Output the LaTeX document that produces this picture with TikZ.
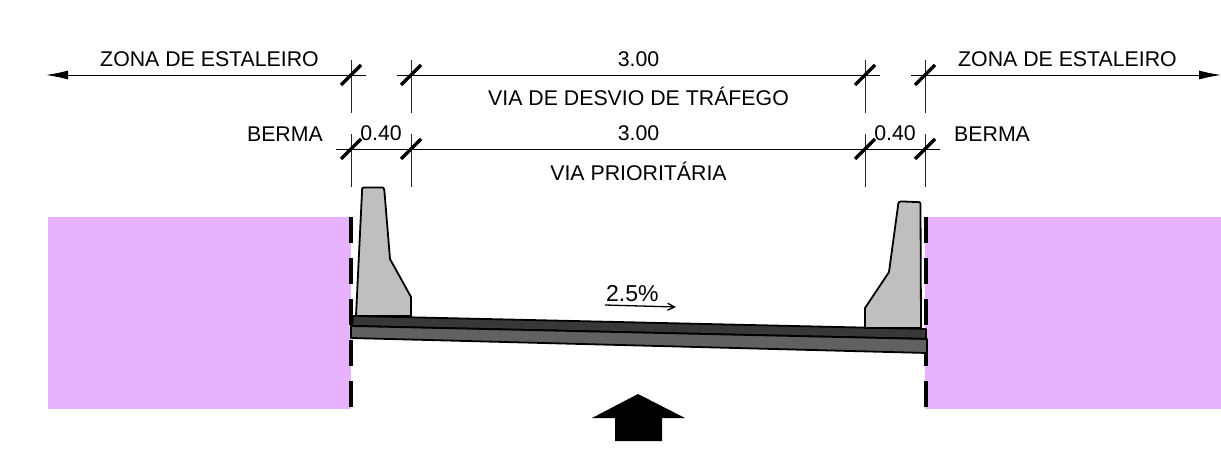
\documentclass[tikz,border=0pt]{standalone}
\usepackage{fontspec}
\setmainfont{Liberation Sans}
\usetikzlibrary{positioning, arrows.meta}

\begin{document}
\begin{tikzpicture}[
        x=1pt, y=-1pt,
        ground/.style = {fill=groundpink, draw=none},
        joint/.style = {line width=4.5pt, dash pattern=on 26pt off 15pt},
        barrier/.style = {draw=black, fill=black!25, line width=1.8pt, line join=round},
        deck/.style = {draw=black, line width=1.8pt, line join=round},
        dimline/.style = {line width=0.9pt},
        extline/.style = {line width=0.9pt, black!85},
        tickmark/.style = {line width=3.2pt},
        dimlabel/.style = {font=\fontsize{21.3}{21.3}\selectfont, inner sep=0pt, text height=15pt, text depth=0pt},
        longarrow/.style = {-{Latex[length=22pt,width=9pt]}}
    ]
    \definecolor{groundpink}{HTML}{E8B2FF}
    \useasboundingbox (0,0) rectangle (1221,454);

    % ground on both sides
    \path[ground] (48,217) rectangle (351,409);
    \path[ground] (925,217) rectangle (1221,409);

    \coordinate (jointLeftTop) at (351,217);
    \coordinate (jointLeftBot) at (351,409);
    \coordinate (jointRightTop) at (926,217);
    \coordinate (jointRightBot) at (926,409);
    \draw[joint] (jointLeftTop) -- (jointLeftBot);
    \draw[joint] (jointRightTop) -- (jointRightBot);

    % pavement layers
    \filldraw[deck, fill=black!78] (353,316) -- (926,329) -- (926,339) -- (352,326) -- cycle;
    \filldraw[deck, fill=black!62] (351,326) -- (927,339) -- (927,353) -- (351,338) -- cycle;

    % barriers
    \filldraw[barrier] (356,316) -- (362,192) .. controls (362,187.5) .. (366,187.5) -- (380,187.5) .. controls (384,187.5) .. (384.5,192) -- (390,259) -- (411,297) -- (411,316) -- cycle;
    \filldraw[barrier] (865,328) -- (865,308) -- (889,272) -- (898,206) .. controls (898.5,201.5) .. (903,201.5) -- (916,202) .. controls (920.5,202) .. (920.5,206) -- (921,328) -- cycle;

    % dimension lines
    \coordinate (topA) at (351,75);
    \coordinate[right=60pt of topA] (topB);
    \coordinate[right=454pt of topB] (topC);
    \coordinate[right=60pt of topC] (topD);
    \coordinate (lowA) at (351,149);
    \coordinate[right=60pt of lowA] (lowB);
    \coordinate[right=454pt of lowB] (lowC);
    \coordinate[right=60pt of lowC] (lowD);
    \coordinate (topMid) at (638.5,75);
    \coordinate (lowMid) at (638.5,149);
    \coordinate (arrowLeft) at (46,75);
    \coordinate (arrowRight) at (1221,75);

    \draw[dimline, longarrow] ([xshift=15pt]topA) -- (arrowLeft);
    \draw[dimline] ([xshift=-14pt]topB) -- ([xshift=15pt]topC);
    \draw[dimline, longarrow] ([xshift=-14pt]topD) -- (arrowRight);
    \draw[dimline] ([xshift=-15pt]lowA) -- ([xshift=15pt]lowD);

    \foreach \pt in {topA, topB, topC, topD, lowA, lowB, lowC, lowD} {
        \draw[extline] ([yshift=15pt]\pt) -- ([yshift=-38pt]\pt);
        \draw[tickmark] ([xshift=-10pt,yshift=-10pt]\pt) -- ([xshift=10pt,yshift=10pt]\pt);
    }

    % labels
    \node[dimlabel, above=8pt of topMid] (topWidth) {3.00};
    \node[dimlabel, below=15pt of topMid] (detourLane) {VIA DE DESVIO DE TRÁFEGO};
    \node[dimlabel, above=8pt of lowMid] (lowWidth) {3.00};
    \node[dimlabel, below=16pt of lowMid] (priorityLane) {VIA PRIORITÁRIA};
    \node[dimlabel, left=32pt of topA, yshift=16pt] (siteLeft) {ZONA DE ESTALEIRO};
    \node[dimlabel, right=33pt of topD, yshift=16pt] (siteRight) {ZONA DE ESTALEIRO};
    \node[dimlabel, left=28pt of lowA, yshift=15pt] (bermLeft) {BERMA};
    \node[dimlabel, right=29pt of lowD, yshift=15pt] (bermRight) {BERMA};
    \node[dimlabel, above=8pt of lowA, xshift=30pt] (shoulderLeft) {0.40};
    \node[dimlabel, above=8pt of lowC, xshift=30pt] (shoulderRight) {0.40};

    % slope
    \coordinate (slopeStart) at (605,305);
    \coordinate (slopeEnd) at (676,307);
    \draw[line width=1.3pt, -{Straight Barb[length=7pt,width=7pt]}] (slopeStart) -- (slopeEnd);
    \node[dimlabel, font=\fontsize{23}{23}\selectfont, text height=17pt, above right=3pt and 1pt of slopeStart] (slope) {2.5\%};

    % viewing direction
    \fill (638,394) -- (685,418) -- (662,418) -- (662,441) -- (615,441) -- (615,418) -- (592,418) -- cycle;
\end{tikzpicture}
\end{document}
